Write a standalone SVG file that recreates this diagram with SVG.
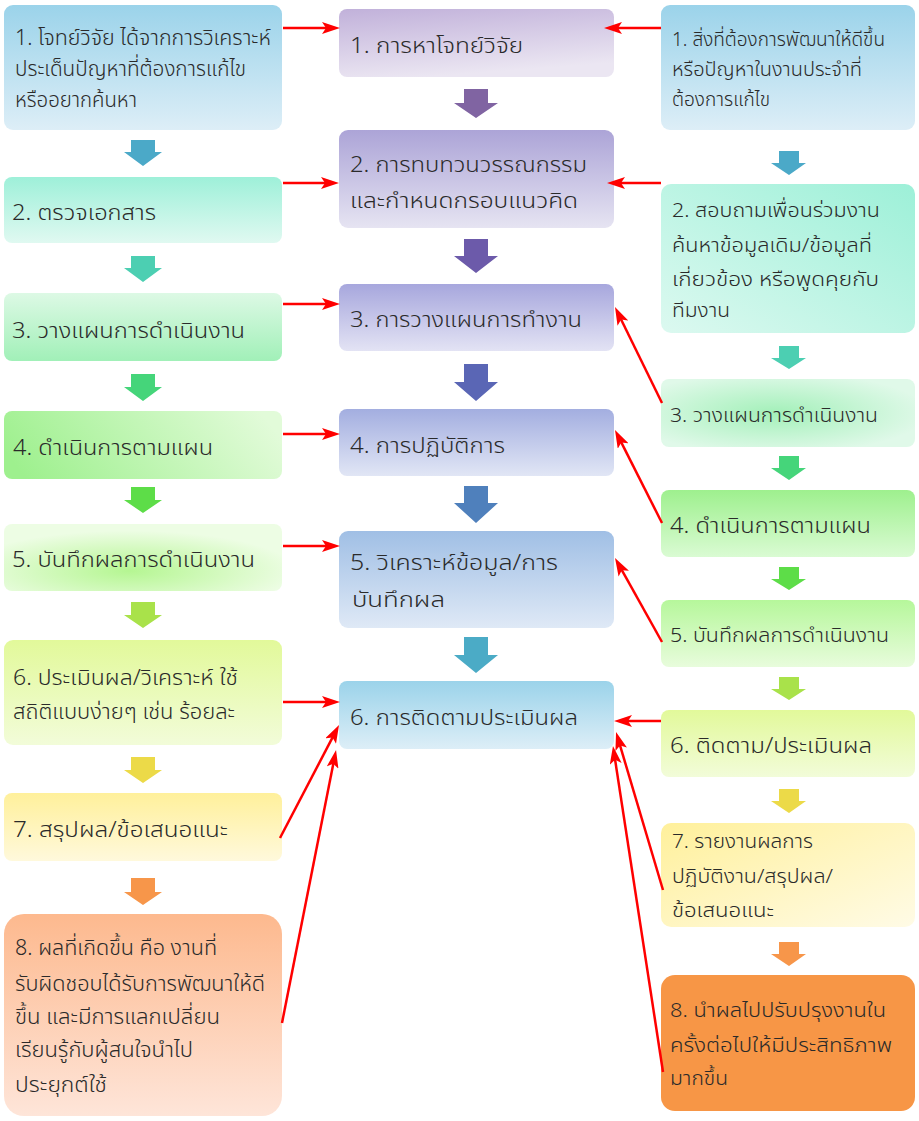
<svg xmlns="http://www.w3.org/2000/svg" width="919" height="1121" viewBox="0 0 919 1121">
  <style>
    text { font-family: "Leelawadee UI", "Tahoma", "Noto Sans Thai", "Noto Sans Thai UI", "Loma", "Garuda", "Kinnari", "DejaVu Sans", sans-serif; fill: #2a2a2a; font-size: 22px; font-weight: 300; }
    .sm { font-size: 20px; }
    .link { fill: none; stroke: #ff0000; stroke-width: 2.5; marker-end: url(#redHead); }
  </style>
  <defs>
    <marker id="redHead" viewBox="0 0 18 12" refX="8" refY="6" markerWidth="18" markerHeight="12" markerUnits="userSpaceOnUse" orient="auto">
      <path d="M0,0 L18,6 L0,12 L4,6 z" fill="#ff0000"/>
    </marker>
    <linearGradient id="gBlue" x1="0" y1="0" x2="0" y2="1"><stop offset="0" stop-color="#9bd3ea"/><stop offset="1" stop-color="#ddeef7"/></linearGradient>
    <linearGradient id="gMint" x1="0" y1="0" x2="0" y2="1"><stop offset="0" stop-color="#9ef0d9"/><stop offset="1" stop-color="#e0f9f1"/></linearGradient>
    <linearGradient id="gL3" x1="0" y1="0" x2="0" y2="1"><stop offset="0" stop-color="#ddf9e5"/><stop offset="1" stop-color="#a1f0b8"/></linearGradient>
    <linearGradient id="gL4" x1="0" y1="0.6" x2="1" y2="0.4"><stop offset="0" stop-color="#9ef08e"/><stop offset="1" stop-color="#e2fbd9"/></linearGradient>
    <radialGradient id="gL5" cx="0.45" cy="0.7" r="0.6"><stop offset="0" stop-color="#b5f692"/><stop offset="1" stop-color="#edfde4"/></radialGradient>
    <linearGradient id="gLime" x1="0" y1="0" x2="0" y2="1"><stop offset="0" stop-color="#e2f99a"/><stop offset="1" stop-color="#f2fcd9"/></linearGradient>
    <linearGradient id="gYellow" x1="0" y1="0" x2="0" y2="1"><stop offset="0" stop-color="#fff09b"/><stop offset="1" stop-color="#fff9dc"/></linearGradient>
    <linearGradient id="gPeach" x1="0" y1="0" x2="0" y2="1"><stop offset="0" stop-color="#fdb98e"/><stop offset="1" stop-color="#fee5d9"/></linearGradient>
    <linearGradient id="gM1" x1="0" y1="0" x2="0.3" y2="1"><stop offset="0" stop-color="#c1b1da"/><stop offset="1" stop-color="#ebe6f2"/></linearGradient>
    <linearGradient id="gM2" x1="0" y1="0" x2="0" y2="1"><stop offset="0" stop-color="#aca4d7"/><stop offset="1" stop-color="#e6e4f2"/></linearGradient>
    <linearGradient id="gM3" x1="0" y1="0" x2="0" y2="1"><stop offset="0" stop-color="#a7a7dd"/><stop offset="1" stop-color="#e3e3f4"/></linearGradient>
    <linearGradient id="gM4" x1="0" y1="0" x2="0" y2="1"><stop offset="0" stop-color="#a3aee0"/><stop offset="1" stop-color="#e1e6f5"/></linearGradient>
    <linearGradient id="gM5" x1="0" y1="0" x2="0" y2="1"><stop offset="0" stop-color="#a0bfe5"/><stop offset="1" stop-color="#dfe9f6"/></linearGradient>
    <linearGradient id="gR2" x1="1" y1="0" x2="0" y2="1"><stop offset="0" stop-color="#9df0d8"/><stop offset="1" stop-color="#dcf9f0"/></linearGradient>
    <radialGradient id="gR3" cx="0.45" cy="0.5" r="0.6"><stop offset="0" stop-color="#a3f0b9"/><stop offset="1" stop-color="#e0f9e9"/></radialGradient>
    <linearGradient id="gR4" x1="0" y1="0" x2="0" y2="1"><stop offset="0" stop-color="#9ef08e"/><stop offset="1" stop-color="#dafbd3"/></linearGradient>
    <linearGradient id="gR5" x1="0" y1="0" x2="0" y2="1"><stop offset="0" stop-color="#b6f79b"/><stop offset="1" stop-color="#e8fcdc"/></linearGradient>
    <linearGradient id="gR7" x1="0" y1="0" x2="1" y2="1"><stop offset="0" stop-color="#fff09b"/><stop offset="1" stop-color="#fffbe6"/></linearGradient>
  </defs>

  <rect width="919" height="1121" fill="#ffffff"/>

  <!-- left column: project steps -->
  <g id="left-1"><rect x="4" y="5" width="278" height="125" rx="9" fill="url(#gBlue)"/>
    <text x="15" y="45" textLength="256" lengthAdjust="spacingAndGlyphs">1. โจทย์วิจัย ได้จากการวิเคราะห์</text>
    <text x="15" y="76" textLength="231" lengthAdjust="spacingAndGlyphs">ประเด็นปัญหาที่ต้องการแก้ไข</text>
    <text x="15" y="107" textLength="122" lengthAdjust="spacingAndGlyphs">หรืออยากค้นหา</text></g>
  <g id="left-2"><rect x="4" y="177" width="278" height="66" rx="8" fill="url(#gMint)"/>
    <text x="12" y="220" textLength="144" lengthAdjust="spacingAndGlyphs">2. ตรวจเอกสาร</text></g>
  <g id="left-3"><rect x="4" y="293" width="278" height="68" rx="8" fill="url(#gL3)"/>
    <text x="12" y="338" textLength="233" lengthAdjust="spacingAndGlyphs">3. วางแผนการดำเนินงาน</text></g>
  <g id="left-4"><rect x="4" y="411" width="278" height="68" rx="8" fill="url(#gL4)"/>
    <text x="13" y="455" textLength="200" lengthAdjust="spacingAndGlyphs">4. ดำเนินการตามแผน</text></g>
  <g id="left-5"><rect x="4" y="524" width="278" height="67" rx="8" fill="url(#gL5)"/>
    <text x="12" y="567" textLength="243" lengthAdjust="spacingAndGlyphs">5. บันทึกผลการดำเนินงาน</text></g>
  <g id="left-6"><rect x="4" y="640" width="278" height="105" rx="9" fill="url(#gLime)"/>
    <text x="13" y="685" textLength="225" lengthAdjust="spacingAndGlyphs">6. ประเมินผล/วิเคราะห์ ใช้</text>
    <text x="13" y="719" textLength="222" lengthAdjust="spacingAndGlyphs">สถิติแบบง่ายๆ เช่น ร้อยละ</text></g>
  <g id="left-7"><rect x="4" y="793" width="278" height="68" rx="8" fill="url(#gYellow)"/>
    <text x="13" y="837" textLength="215" lengthAdjust="spacingAndGlyphs">7. สรุปผล/ข้อเสนอแนะ</text></g>
  <g id="left-8"><rect x="4" y="914" width="278" height="202" rx="20" fill="url(#gPeach)"/>
    <text x="15" y="955" textLength="202" lengthAdjust="spacingAndGlyphs">8. ผลที่เกิดขึ้น คือ งานที่</text>
    <text x="15" y="991" textLength="250" lengthAdjust="spacingAndGlyphs">รับผิดชอบได้รับการพัฒนาให้ดี</text>
    <text x="15" y="1024" textLength="205" lengthAdjust="spacingAndGlyphs">ขึ้น และมีการแลกเปลี่ยน</text>
    <text x="15" y="1057" textLength="178" lengthAdjust="spacingAndGlyphs">เรียนรู้กับผู้สนใจนำไป</text>
    <text x="15" y="1092" textLength="92" lengthAdjust="spacingAndGlyphs">ประยุกต์ใช้</text></g>

  <!-- middle column: research process -->
  <g id="mid-1"><rect x="339" y="9" width="275" height="68" rx="8" fill="url(#gM1)"/>
    <text x="350" y="53" textLength="173" lengthAdjust="spacingAndGlyphs">1. การหาโจทย์วิจัย</text></g>
  <g id="mid-2"><rect x="339" y="130" width="275" height="98" rx="9" fill="url(#gM2)"/>
    <text x="350" y="172" textLength="237" lengthAdjust="spacingAndGlyphs">2. การทบทวนวรรณกรรม</text>
    <text x="350" y="208" textLength="228" lengthAdjust="spacingAndGlyphs">และกำหนดกรอบแนวคิด</text></g>
  <g id="mid-3"><rect x="339" y="284" width="275" height="67" rx="8" fill="url(#gM3)"/>
    <text x="350" y="327" textLength="232" lengthAdjust="spacingAndGlyphs">3. การวางแผนการทำงาน</text></g>
  <g id="mid-4"><rect x="339" y="409" width="275" height="67" rx="8" fill="url(#gM4)"/>
    <text x="350" y="453" textLength="155" lengthAdjust="spacingAndGlyphs">4. การปฏิบัติการ</text></g>
  <g id="mid-5"><rect x="339" y="531" width="275" height="97" rx="9" fill="url(#gM5)"/>
    <text x="350" y="570" textLength="208" lengthAdjust="spacingAndGlyphs">5. วิเคราะห์ข้อมูล/การ</text>
    <text x="352" y="607" textLength="93" lengthAdjust="spacingAndGlyphs">บันทึกผล</text></g>
  <g id="mid-6"><rect x="339" y="681" width="275" height="68" rx="8" fill="url(#gBlue)"/>
    <text x="350" y="725" textLength="228" lengthAdjust="spacingAndGlyphs">6. การติดตามประเมินผล</text></g>

  <!-- right column: routine work improvement -->
  <g id="right-1"><rect x="661" y="5" width="254" height="125" rx="9" fill="url(#gBlue)"/>
    <text class="sm" x="672" y="46" textLength="213" lengthAdjust="spacingAndGlyphs">1. สิ่งที่ต้องการพัฒนาให้ดีขึ้น</text>
    <text class="sm" x="672" y="76" textLength="190" lengthAdjust="spacingAndGlyphs">หรือปัญหาในงานประจำที่</text>
    <text class="sm" x="672" y="106" textLength="98" lengthAdjust="spacingAndGlyphs">ต้องการแก้ไข</text></g>
  <g id="right-2"><rect x="661" y="184" width="254" height="149" rx="10" fill="url(#gR2)"/>
    <text class="sm" x="672" y="217" textLength="208" lengthAdjust="spacingAndGlyphs">2. สอบถามเพื่อนร่วมงาน</text>
    <text class="sm" x="672" y="252" textLength="200" lengthAdjust="spacingAndGlyphs">ค้นหาข้อมูลเดิม/ข้อมูลที่</text>
    <text class="sm" x="672" y="286" textLength="207" lengthAdjust="spacingAndGlyphs">เกี่ยวข้อง หรือพูดคุยกับ</text>
    <text class="sm" x="672" y="317" textLength="58" lengthAdjust="spacingAndGlyphs">ทีมงาน</text></g>
  <g id="right-3"><rect x="661" y="379" width="254" height="68" rx="8" fill="url(#gR3)"/>
    <text class="sm" x="670" y="422" textLength="208" lengthAdjust="spacingAndGlyphs">3. วางแผนการดำเนินงาน</text></g>
  <g id="right-4"><rect x="661" y="490" width="254" height="67" rx="8" fill="url(#gR4)"/>
    <text x="670" y="533" textLength="201" lengthAdjust="spacingAndGlyphs">4. ดำเนินการตามแผน</text></g>
  <g id="right-5"><rect x="661" y="600" width="254" height="67" rx="8" fill="url(#gR5)"/>
    <text class="sm" x="670" y="642" textLength="219" lengthAdjust="spacingAndGlyphs">5. บันทึกผลการดำเนินงาน</text></g>
  <g id="right-6"><rect x="661" y="710" width="254" height="67" rx="8" fill="url(#gLime)"/>
    <text x="670" y="753" textLength="202" lengthAdjust="spacingAndGlyphs">6. ติดตาม/ประเมินผล</text></g>
  <g id="right-7"><rect x="661" y="823" width="254" height="104" rx="10" fill="url(#gR7)"/>
    <text class="sm" x="672" y="848" textLength="141" lengthAdjust="spacingAndGlyphs">7. รายงานผลการ</text>
    <text class="sm" x="672" y="883" textLength="161" lengthAdjust="spacingAndGlyphs">ปฏิบัติงาน/สรุปผล/</text>
    <text class="sm" x="672" y="917" textLength="102" lengthAdjust="spacingAndGlyphs">ข้อเสนอแนะ</text></g>
  <g id="right-8"><rect x="661" y="975" width="254" height="136" rx="14" fill="#f79646"/>
    <text class="sm" x="670" y="1017" textLength="216" lengthAdjust="spacingAndGlyphs">8. นำผลไปปรับปรุงงานใน</text>
    <text class="sm" x="670" y="1052" textLength="222" lengthAdjust="spacingAndGlyphs">ครั้งต่อไปให้มีประสิทธิภาพ</text>
    <text class="sm" x="670" y="1085" textLength="58" lengthAdjust="spacingAndGlyphs">มากขึ้น</text></g>

  <!-- block arrows between steps -->
  <g id="step-arrows">
    <polygon fill="#4ba9c8" points="131,140 155,140 155,152 162,152 143,166 124,152 131,152"/>
    <polygon fill="#4ccfb2" points="131,256 155,256 155,268 162,268 143,282 124,268 131,268"/>
    <polygon fill="#45d57a" points="131,374 155,374 155,387 162,387 143,401 124,387 131,387"/>
    <polygon fill="#5ddd48" points="131,487 155,487 155,500 162,500 143,513 124,500 131,500"/>
    <polygon fill="#a9e24a" points="131,602 155,602 155,615 162,615 143,628 124,615 131,615"/>
    <polygon fill="#ecda48" points="131,757 155,757 155,770 162,770 143,783 124,770 131,770"/>
    <polygon fill="#f7964a" points="131,878 155,878 155,892 162,892 143,905 124,892 131,892"/>

    <polygon fill="#8064a2" points="464,89 488,89 488,103 498,103 476,118 454,103 464,103"/>
    <polygon fill="#6c5aaa" points="464,239 488,239 488,256 498,256 476,273 454,256 464,256"/>
    <polygon fill="#5a66b5" points="464,364 488,364 488,382 498,382 476,401 454,382 464,382"/>
    <polygon fill="#4f80bc" points="464,486 488,486 488,503 498,503 476,523 454,503 464,503"/>
    <polygon fill="#4babc6" points="464,637 488,637 488,655 498,655 476,673 454,655 464,655"/>

    <polygon fill="#4ba9c8" points="779,151 799,151 799,163 806,163 789,175 771,163 779,163"/>
    <polygon fill="#4ccfb2" points="779,346 799,346 799,358 806,358 789,369 771,358 779,358"/>
    <polygon fill="#45d57a" points="779,456 799,456 799,468 806,468 789,480 771,468 779,468"/>
    <polygon fill="#5ddd48" points="779,567 799,567 799,579 806,579 789,590 771,579 779,579"/>
    <polygon fill="#a9e24a" points="779,677 799,677 799,689 806,689 789,700 771,689 779,689"/>
    <polygon fill="#ecda48" points="779,789 799,789 799,801 806,801 789,813 771,801 779,801"/>
    <polygon fill="#f7964a" points="779,942 799,942 799,954 806,954 789,966 771,954 779,954"/>
  </g>

  <!-- red links into the research process -->
  <g id="connectors">
    <line class="link" x1="283" y1="28" x2="330" y2="28"/>
    <line class="link" x1="283" y1="183" x2="329" y2="183"/>
    <line class="link" x1="283" y1="304" x2="330" y2="304"/>
    <line class="link" x1="283" y1="434" x2="330" y2="434"/>
    <line class="link" x1="283" y1="546" x2="330" y2="546"/>
    <line class="link" x1="283" y1="702" x2="330" y2="702"/>
    <line class="link" x1="280" y1="838" x2="334.4" y2="733.9"/>
    <line class="link" x1="282" y1="1023" x2="334.1" y2="759.8"/>

    <line class="link" x1="661" y1="28" x2="614" y2="28"/>
    <line class="link" x1="661" y1="183" x2="617" y2="183"/>
    <line class="link" x1="662" y1="403" x2="619.4" y2="316"/>
    <line class="link" x1="662" y1="523" x2="619.5" y2="438.9"/>
    <line class="link" x1="662" y1="642" x2="619.9" y2="566.7"/>
    <line class="link" x1="661" y1="721" x2="624" y2="721"/>
    <line class="link" x1="663" y1="890" x2="618.9" y2="741.6"/>
    <line class="link" x1="663" y1="1072" x2="614.5" y2="755.9"/>
  </g>
</svg>
